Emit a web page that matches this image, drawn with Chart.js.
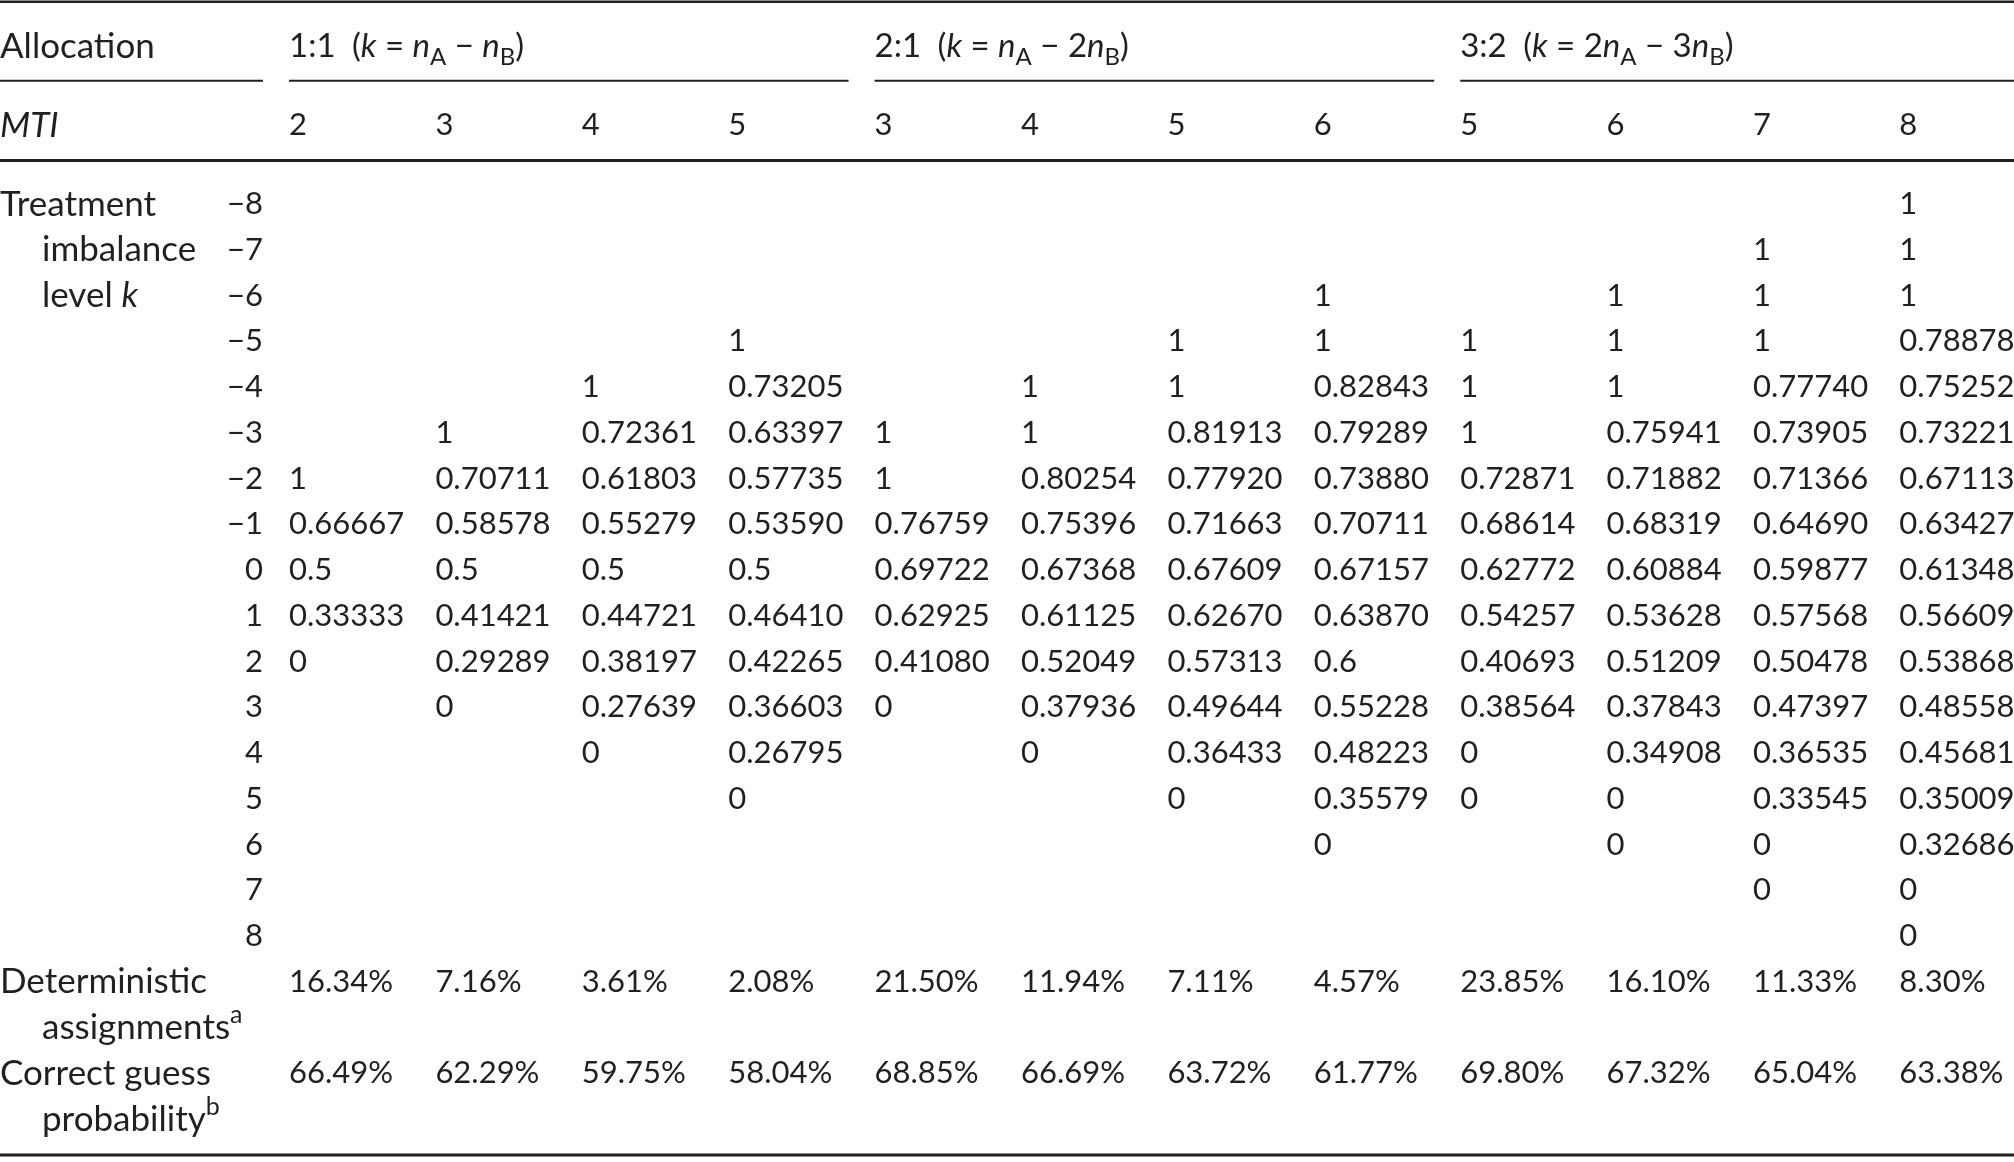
<!DOCTYPE html>
<html>
<head>
<meta charset="utf-8">
<title>Treatment imbalance levels by MTI</title>
<script src="https://cdn.jsdelivr.net/npm/chart.js@4.4.1/dist/chart.umd.min.js"></script>
<style>
  html, body { margin: 0; padding: 0; background: #fff; }
  #wrap { width: 2014px; height: 1162px; position: relative; }
</style>
</head>
<body>
<div id="wrap"><canvas id="tableChart"></canvas></div>
<script>
// === Table data ===
const mtiLevels = [2, 3, 4, 5, 3, 4, 5, 6, 5, 6, 7, 8];
const kLevels = [-8, -7, -6, -5, -4, -3, -2, -1, 0, 1, 2, 3, 4, 5, 6, 7, 8];

// one list per column, k = -8 ... 8 (null = empty cell)
const p11_mti2 = [null, null, null, null, null, null, '1', '0.66667', '0.5', '0.33333', '0', null, null, null, null, null, null];
const p11_mti3 = [null, null, null, null, null, '1', '0.70711', '0.58578', '0.5', '0.41421', '0.29289', '0', null, null, null, null, null];
const p11_mti4 = [null, null, null, null, '1', '0.72361', '0.61803', '0.55279', '0.5', '0.44721', '0.38197', '0.27639', '0', null, null, null, null];
const p11_mti5 = [null, null, null, '1', '0.73205', '0.63397', '0.57735', '0.53590', '0.5', '0.46410', '0.42265', '0.36603', '0.26795', '0', null, null, null];
const p21_mti3 = [null, null, null, null, null, '1', '1', '0.76759', '0.69722', '0.62925', '0.41080', '0', null, null, null, null, null];
const p21_mti4 = [null, null, null, null, '1', '1', '0.80254', '0.75396', '0.67368', '0.61125', '0.52049', '0.37936', '0', null, null, null, null];
const p21_mti5 = [null, null, null, '1', '1', '0.81913', '0.77920', '0.71663', '0.67609', '0.62670', '0.57313', '0.49644', '0.36433', '0', null, null, null];
const p21_mti6 = [null, null, '1', '1', '0.82843', '0.79289', '0.73880', '0.70711', '0.67157', '0.63870', '0.6', '0.55228', '0.48223', '0.35579', '0', null, null];
const p32_mti5 = [null, null, null, '1', '1', '1', '0.72871', '0.68614', '0.62772', '0.54257', '0.40693', '0.38564', '0', '0', null, null, null];
const p32_mti6 = [null, null, '1', '1', '1', '0.75941', '0.71882', '0.68319', '0.60884', '0.53628', '0.51209', '0.37843', '0.34908', '0', '0', null, null];
const p32_mti7 = [null, '1', '1', '1', '0.77740', '0.73905', '0.71366', '0.64690', '0.59877', '0.57568', '0.50478', '0.47397', '0.36535', '0.33545', '0', '0', null];
const p32_mti8 = ['1', '1', '1', '0.78878', '0.75252', '0.73221', '0.67113', '0.63427', '0.61348', '0.56609', '0.53868', '0.48558', '0.45681', '0.35009', '0.32686', '0', '0'];

const columns = [p11_mti2, p11_mti3, p11_mti4, p11_mti5,
                 p21_mti3, p21_mti4, p21_mti5, p21_mti6,
                 p32_mti5, p32_mti6, p32_mti7, p32_mti8];

const deterministic = ['16.34%', '7.16%', '3.61%', '2.08%', '21.50%', '11.94%', '7.11%', '4.57%', '23.85%', '16.10%', '11.33%', '8.30%'];
const correctGuess = ['66.49%', '62.29%', '59.75%', '58.04%', '68.85%', '66.69%', '63.72%', '61.77%', '69.80%', '67.32%', '65.04%', '63.38%'];

// group headers: first column of each group + rich text parts
const groupStarts = [0, 4, 8];
const groupLabels = [
  [['1:1\u2002(', 'r'], ['k', 'i'], [' = ', 'r'], ['n', 'i'], ['A', 'sub'], [' \u2212 ', 'r'], ['n', 'i'], ['B', 'sub'], [')', 'r']],
  [['2:1\u2002(', 'r'], ['k', 'i'], [' = ', 'r'], ['n', 'i'], ['A', 'sub'], [' \u2212 ', 'r'], ['2', 'r'], ['n', 'i'], ['B', 'sub'], [')', 'r']],
  [['3:2\u2002(', 'r'], ['k', 'i'], [' = ', 'r'], ['2', 'r'], ['n', 'i'], ['A', 'sub'], [' \u2212 ', 'r'], ['3', 'r'], ['n', 'i'], ['B', 'sub'], [')', 'r']]
];

// === Layout (row positions in k units, offsets in px) ===
const FS = 31;      // numbers
const LFS = 35;     // stub labels
const HFS = 33;     // group headers
const INK = '#231f20';
const FONT = 'Lato, "DejaVu Sans", sans-serif';
const rowHeader = -11.45, rowMti = -9.72;
const ruleTop = -12.40, ruleGroup = -10.67, ruleMid = -8.93, ruleBottom = 12.81;
const rowDet = 9, rowDet2 = 10, rowGuess = 11, rowGuess2 = 12;
const indent = 42, kLabelRight = 263, groupGap = 26;

// === Datasets built from the arrays ===
const cellPoints = [];
columns.forEach((col, c) => {
  col.forEach((v, i) => {
    if (v !== null) cellPoints.push({ x: c, y: kLevels[i], text: v });
  });
});
const footerPoints = [];
deterministic.forEach((v, c) => footerPoints.push({ x: c, y: rowDet, text: v }));
correctGuess.forEach((v, c) => footerPoints.push({ x: c, y: rowGuess, text: v }));
const mtiPoints = mtiLevels.map((m, c) => ({ x: c, y: rowMti, text: String(m) }));

function fontFor(style, size) {
  if (style === 'i') return `italic ${size}px ${FONT}`;
  if (style === 'sub' || style === 'sup') return `${Math.round(size * 0.72)}px ${FONT}`;
  return `${size}px ${FONT}`;
}

// draw text parts left-aligned, yc = visual centre of digits
function drawRich(ctx, parts, x, yc, size) {
  size = size || FS;
  const base = yc + size * 0.36;
  let cx = x;
  parts.forEach(([t, st]) => {
    ctx.font = fontFor(st, size);
    let dy = 0;
    if (st === 'sub') dy = size * 0.24;
    if (st === 'sup') dy = -size * 0.45;
    ctx.fillText(t, cx, base + dy);
    cx += ctx.measureText(t).width;
  });
}

function hRule(ctx, x1, x2, y, w) {
  ctx.beginPath();
  ctx.lineWidth = w;
  ctx.moveTo(x1, y);
  ctx.lineTo(x2, y);
  ctx.stroke();
}

const tablePlugin = {
  id: 'tableText',
  beforeDraw(chart) {
    const c = chart.ctx;
    c.save();
    c.fillStyle = '#fff';
    c.fillRect(0, 0, chart.width, chart.height);
    c.restore();
  },
  afterDatasetsDraw(chart) {
    const ctx = chart.ctx;
    const xs = chart.scales.x, ys = chart.scales.y;
    const L = chart.chartArea.left, R = chart.chartArea.right;
    ctx.save();
    ctx.fillStyle = INK;
    ctx.strokeStyle = INK;
    ctx.textAlign = 'left';
    ctx.textBaseline = 'alphabetic';

    // rules
    hRule(ctx, L, R, ys.getPixelForValue(ruleTop), 2.5);
    hRule(ctx, L, R, ys.getPixelForValue(ruleMid), 3);
    hRule(ctx, L, R, ys.getPixelForValue(ruleBottom), 3);
    const yg = ys.getPixelForValue(ruleGroup);
    hRule(ctx, L, L + kLabelRight, yg, 2);
    groupStarts.forEach((g, i) => {
      const x1 = xs.getPixelForValue(g);
      const x2 = i < groupStarts.length - 1 ? xs.getPixelForValue(groupStarts[i + 1]) - groupGap : R;
      hRule(ctx, x1, x2, yg, 2);
      drawRich(ctx, groupLabels[i], x1, ys.getPixelForValue(rowHeader), HFS);
    });

    // stub column
    drawRich(ctx, [['Allocation', 'r']], L, ys.getPixelForValue(rowHeader), LFS);
    drawRich(ctx, [['MTI', 'i']], L, ys.getPixelForValue(rowMti), LFS);
    drawRich(ctx, [['Treatment', 'r']], L, ys.getPixelForValue(-8), LFS);
    drawRich(ctx, [['imbalance', 'r']], L + indent, ys.getPixelForValue(-7), LFS);
    drawRich(ctx, [['level ', 'r'], ['k', 'i']], L + indent, ys.getPixelForValue(-6), LFS);
    drawRich(ctx, [['Deterministic', 'r']], L, ys.getPixelForValue(rowDet), LFS);
    drawRich(ctx, [['assignments', 'r'], ['a', 'sup']], L + indent, ys.getPixelForValue(rowDet2), LFS);
    drawRich(ctx, [['Correct guess', 'r']], L, ys.getPixelForValue(rowGuess), LFS);
    drawRich(ctx, [['probability', 'r'], ['b', 'sup']], L + indent, ys.getPixelForValue(rowGuess2), LFS);

    ctx.font = fontFor('r', FS);
    ctx.textAlign = 'right';
    kLevels.forEach(k => {
      const lbl = k < 0 ? '\u2212' + Math.abs(k) : String(k);
      ctx.fillText(lbl, L + kLabelRight, ys.getPixelForValue(k) + FS * 0.36);
    });
    ctx.textAlign = 'left';

    // cells, placed by the library's scatter elements
    chart.data.datasets.forEach((ds, di) => {
      const meta = chart.getDatasetMeta(di);
      meta.data.forEach((el, i) => {
        drawRich(ctx, [[ds.data[i].text, 'r']], el.x, el.y, FS);
      });
    });
    ctx.restore();
  }
};

const cellStyle = { pointRadius: 0, pointHoverRadius: 0, showLine: false };

new Chart(document.getElementById('tableChart').getContext('2d'), {
  type: 'scatter',
  data: {
    datasets: [
      Object.assign({ label: 'MTI', data: mtiPoints }, cellStyle),
      Object.assign({ label: 'Probability', data: cellPoints }, cellStyle),
      Object.assign({ label: 'Summary', data: footerPoints }, cellStyle)
    ]
  },
  options: {
    responsive: true,
    maintainAspectRatio: false,
    animation: false,
    events: [],
    layout: { padding: 0 },
    plugins: { legend: { display: false }, tooltip: { enabled: false } },
    scales: {
      x: { type: 'linear', display: false, min: -1.974, max: 11.783 },
      y: { type: 'linear', display: false, reverse: true, min: -12.437, max: 12.962 }
    }
  },
  plugins: [tablePlugin]
});
</script>
</body>
</html>
